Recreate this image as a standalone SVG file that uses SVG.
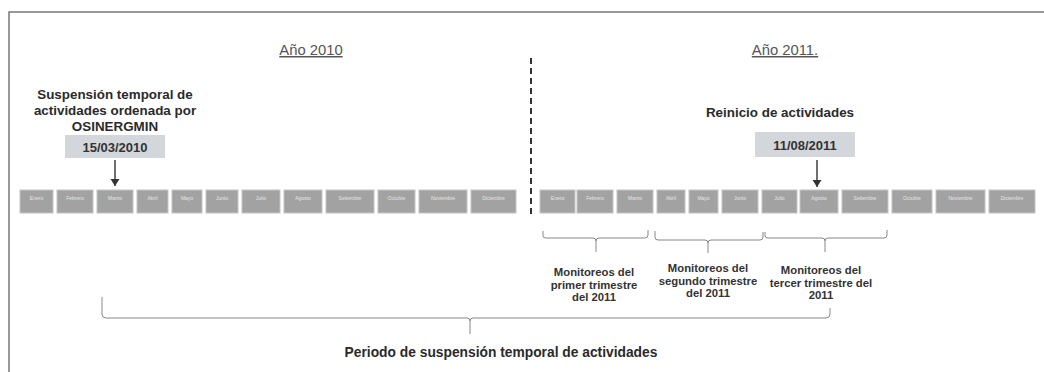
<svg xmlns="http://www.w3.org/2000/svg" width="1044" height="372" viewBox="0 0 1044 372">
<style>
.title{font-family:"Liberation Sans",Arial,sans-serif;font-size:14.8px;fill:#555;text-anchor:middle;text-decoration:underline}
.lab{font-family:"Liberation Sans",Arial,sans-serif;font-weight:bold;font-size:13.4px;fill:#2a2a2a;text-anchor:middle}
.per{font-family:"Liberation Sans",Arial,sans-serif;font-weight:bold;font-size:13.8px;fill:#2a2a2a;text-anchor:middle}
.mon{font-family:"Liberation Sans",Arial,sans-serif;font-weight:bold;font-size:11.3px;fill:#333;text-anchor:middle}
.date{fill:#d3d6da}
.dtxt{font-family:"Liberation Sans",Arial,sans-serif;font-weight:bold;font-size:13px;fill:#333;text-anchor:middle}
.m{fill:#a2a2a2;stroke:#c4c4c4;stroke-width:1}
.mt{font-family:"Liberation Sans",Arial,sans-serif;font-size:5px;fill:#e6e6e6;text-anchor:middle}
.br{fill:none;stroke:#888;stroke-width:1}
.ar{stroke:#333;stroke-width:1.4;fill:none}
</style>
<defs>
<marker id="ahd" markerWidth="10" markerHeight="10" refX="5" refY="8" markerUnits="userSpaceOnUse">
<path d="M0.5,1 L9.5,1 L5,8 Z" fill="#333"/>
</marker>
</defs>
<rect width="1044" height="372" fill="#fff"/>
<g id="frame">
<path d="M9,372 L9,12 L1044,12" fill="none" stroke="#777" stroke-width="1.5"/>
</g>
<g id="titles">
<text class="title" x="311" y="55">Año 2010</text>
<text class="title" x="785" y="55">Año 2011.</text>
</g>
<g id="divider">
<line x1="531" y1="58" x2="531" y2="214" stroke="#333" stroke-width="2" stroke-dasharray="6 4"/>
</g>
<g id="months2010">
<rect class="m" x="20" y="190" width="33" height="23"/><text class="mt" x="36.5" y="200">Enero</text>
<rect class="m" x="57" y="190" width="36" height="23"/><text class="mt" x="75" y="200">Febrero</text>
<rect class="m" x="97" y="190" width="36" height="23"/><text class="mt" x="115" y="200">Marzo</text>
<rect class="m" x="137" y="190" width="31" height="23"/><text class="mt" x="152.5" y="200">Abril</text>
<rect class="m" x="172" y="190" width="30" height="23"/><text class="mt" x="187" y="200">Mayo</text>
<rect class="m" x="206" y="190" width="32" height="23"/><text class="mt" x="222" y="200">Junio</text>
<rect class="m" x="242" y="190" width="38" height="23"/><text class="mt" x="261" y="200">Julio</text>
<rect class="m" x="284" y="190" width="38" height="23"/><text class="mt" x="303" y="200">Agosto</text>
<rect class="m" x="326" y="190" width="48" height="23"/><text class="mt" x="350" y="200">Setiembre</text>
<rect class="m" x="378" y="190" width="37" height="23"/><text class="mt" x="396.5" y="200">Octubre</text>
<rect class="m" x="419" y="190" width="48" height="23"/><text class="mt" x="443" y="200">Noviembre</text>
<rect class="m" x="471" y="190" width="45" height="23"/><text class="mt" x="493.5" y="200">Diciembre</text>
</g>
<g id="months2011">
<rect class="m" x="540" y="190" width="35" height="23"/><text class="mt" x="557.5" y="200">Enero</text>
<rect class="m" x="577" y="190" width="36" height="23"/><text class="mt" x="595" y="200">Febrero</text>
<rect class="m" x="617" y="190" width="36" height="23"/><text class="mt" x="635" y="200">Marzo</text>
<rect class="m" x="657" y="190" width="28" height="23"/><text class="mt" x="671" y="200">Abril</text>
<rect class="m" x="689" y="190" width="29" height="23"/><text class="mt" x="703.5" y="200">Mayo</text>
<rect class="m" x="722" y="190" width="36" height="23"/><text class="mt" x="740" y="200">Junio</text>
<rect class="m" x="762" y="190" width="35" height="23"/><text class="mt" x="779.5" y="200">Julio</text>
<rect class="m" x="800" y="190" width="38" height="23"/><text class="mt" x="819" y="200">Agosto</text>
<rect class="m" x="842" y="190" width="46" height="23"/><text class="mt" x="865" y="200">Setiembre</text>
<rect class="m" x="892" y="190" width="40" height="23"/><text class="mt" x="912" y="200">Octubre</text>
<rect class="m" x="936" y="190" width="49" height="23"/><text class="mt" x="960.5" y="200">Noviembre</text>
<rect class="m" x="989" y="190" width="46" height="23"/><text class="mt" x="1012" y="200">Diciembre</text>
</g>
<g id="suspension">
<text class="lab" x="115" y="99">Suspensión temporal de</text>
<text class="lab" x="115" y="115">actividades ordenada por</text>
<text class="lab" x="115" y="131">OSINERGMIN</text>
<rect class="date" x="65" y="135" width="100" height="23"/>
<text class="dtxt" x="115" y="151.5">15/03/2010</text>
</g>
<g id="reinicio">
<text class="lab" x="780" y="117">Reinicio de actividades</text>
<rect class="date" x="755" y="132" width="100" height="25"/>
<text class="dtxt" x="805" y="149.5">11/08/2011</text>
</g>
<g id="q1">
<text class="mon" x="594" y="276">Monitoreos del</text>
<text class="mon" x="594" y="288.5">primer trimestre</text>
<text class="mon" x="594" y="301">del 2011</text>
</g>
<g id="q2">
<text class="mon" x="708" y="272">Monitoreos del</text>
<text class="mon" x="708" y="284.5">segundo trimestre</text>
<text class="mon" x="708" y="297">del 2011</text>
</g>
<g id="q3">
<text class="mon" x="821" y="274">Monitoreos del</text>
<text class="mon" x="821" y="286.5">tercer trimestre del</text>
<text class="mon" x="821" y="299">2011</text>
</g>
<g id="periodo">
<text class="per" x="501" y="357">Periodo de suspensión temporal de actividades</text>
</g>
<g id="connectors">
<line class="ar" x1="115" y1="160" x2="115" y2="186" marker-end="url(#ahd)"/>
<line class="ar" x1="817" y1="160" x2="817" y2="187" marker-end="url(#ahd)"/>
<path class="br" d="M543,231 L543,236 Q543,238 546,238 L593,238 Q596,238 596,241 L596,252 M596,241 Q596,238 599,238 L645,238 Q648,238 648,235 L648,230"/>
<path class="br" d="M655,231 L655,237 Q655,240 658,240 L705,240 Q708,240 708,243 L708,253 M708,243 Q708,240 711,240 L760,240 Q763,240 763,237 L763,232"/>
<path class="br" d="M765,232 L765,236 Q765,238 768,238 L822,238 Q825,238 825,241 L825,252 M825,241 Q825,238 828,238 L884,238 Q887,238 887,235 L887,230"/>
<path class="br" d="M102,297 L102,314 Q102,318 106,318 L467,318 Q470,318 470,321 L470,334 M470,321 Q470,318 473,318 L826,318 Q830,318 830,314 L830,308"/>
</g>
</svg>
